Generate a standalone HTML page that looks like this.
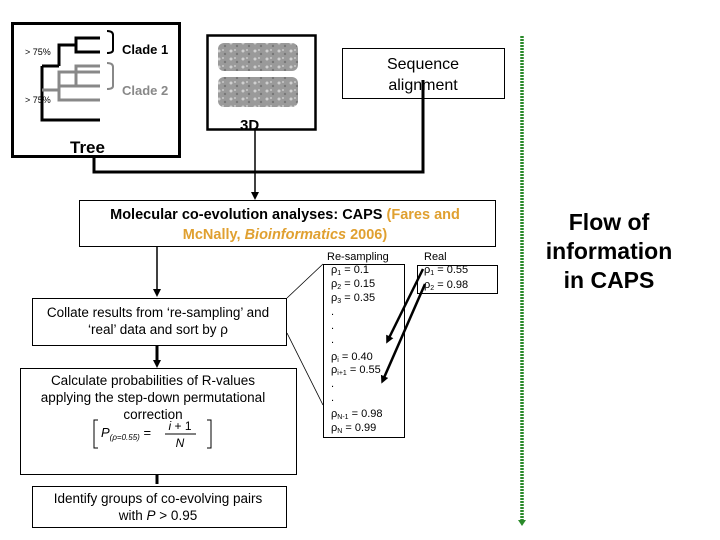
<!DOCTYPE html>
<html><head><meta charset="utf-8"><style>
html,body{margin:0;padding:0;background:#fff;}
svg{display:block;}
text{font-family:"Liberation Sans",sans-serif;}
</style></head><body>
<svg width="720" height="540" viewBox="0 0 720 540" xmlns="http://www.w3.org/2000/svg">
<defs>
<marker id="ah" markerWidth="8" markerHeight="8" refX="4" refY="4" orient="auto" markerUnits="userSpaceOnUse">
<path d="M0,0 L8,4 L0,8 Z" fill="#000"/></marker>
<pattern id="noise" width="12" height="8" patternUnits="userSpaceOnUse">
<rect width="12" height="8" fill="#9a9a9a"/><circle cx="3" cy="3" r="1.5" fill="#d0d0d0"/><circle cx="9" cy="6" r="1.2" fill="#777"/><circle cx="7" cy="2" r="1" fill="#c8c8c8"/></pattern>
</defs>

<!-- Tree box -->
<rect x="12.5" y="23.5" width="167" height="133" fill="#fff" stroke="#000" stroke-width="3"/>
<g fill="none" stroke="#000" stroke-width="3">
<path d="M100,38 H76 V52 H100 M76,45 H59 V66 M42,66 H59 M42,66 V120 H100"/>
</g>
<g fill="none" stroke="#888" stroke-width="3">
<path d="M42,90 H59 V100 H100 M59,90 V72 H100 M59,86 H76 V66 H100 M76,86 H100"/>
</g>
<path d="M107,31 Q113,31 113,35 V50 Q113,53 107,53" fill="none" stroke="#000" stroke-width="2"/>
<path d="M107,63 Q113,63 113,67 V86 Q113,89 107,89" fill="none" stroke="#888" stroke-width="2"/>
<text x="122" y="54" font-size="13" font-weight="bold">Clade 1</text>
<text x="122" y="95" font-size="13" font-weight="bold" fill="#888">Clade 2</text>
<text x="25" y="55" font-size="9" font-family="Liberation Serif,serif">&gt; 75%</text>
<text x="25" y="103" font-size="9" font-family="Liberation Serif,serif">&gt; 75%</text>
<text x="70" y="153" font-size="17" font-weight="bold">Tree</text>

<!-- 3D box -->
<rect x="207.5" y="35.5" width="108" height="94" fill="#fff" stroke="#000" stroke-width="2.5"/>
<rect x="218" y="43" width="80" height="28" fill="url(#noise)" rx="6"/>
<rect x="218" y="77" width="80" height="30" fill="url(#noise)" rx="6"/>
<text x="240" y="130" font-size="15" font-weight="bold">3D</text>

<!-- Sequence alignment -->
<rect x="342.5" y="48.5" width="162" height="50" fill="#fff" stroke="#000" stroke-width="1"/>
<text x="423" y="69" font-size="16" text-anchor="middle">Sequence</text>
<text x="423" y="90" font-size="16" text-anchor="middle">alignment</text>

<!-- connectors -->
<path d="M94,157 V172 H423 V80" fill="none" stroke="#000" stroke-width="3"/>
<line x1="255" y1="130" x2="255" y2="196" stroke="#000" stroke-width="1.5" marker-end="url(#ah)"/>

<!-- CAPS box -->
<rect x="79.5" y="200.5" width="416" height="46" fill="#fff" stroke="#000" stroke-width="1"/>
<text x="285" y="219" font-size="14.5" font-weight="bold" text-anchor="middle">Molecular co-evolution analyses: CAPS <tspan fill="#e0a030">(Fares and</tspan></text>
<text x="285" y="239" font-size="14.5" font-weight="bold" text-anchor="middle" fill="#e0a030">McNally, <tspan font-style="italic">Bioinformatics</tspan> 2006)</text>

<line x1="157" y1="247" x2="157" y2="293" stroke="#000" stroke-width="1.5" marker-end="url(#ah)"/>

<!-- Collate -->
<rect x="32.5" y="298.5" width="254" height="47" fill="#fff" stroke="#000" stroke-width="1"/>
<text x="158" y="317" font-size="13.5" text-anchor="middle">Collate results from ‘re-sampling’ and</text>
<text x="158" y="334" font-size="13.5" text-anchor="middle">‘real’ data and sort by ρ</text>
<line x1="157" y1="346" x2="157" y2="364" stroke="#000" stroke-width="3" marker-end="url(#ah)"/>

<!-- Calc -->
<rect x="20.5" y="368.5" width="276" height="106" fill="#fff" stroke="#000" stroke-width="1"/>
<text x="153" y="385" font-size="13.5" text-anchor="middle">Calculate probabilities of R-values</text>
<text x="153" y="402" font-size="13.5" text-anchor="middle">applying the step-down permutational</text>
<text x="153" y="419" font-size="13.5" text-anchor="middle">correction</text>
<path d="M98,420 H94 V448 H98 M207,420 H211 V448 H207" fill="none" stroke="#000" stroke-width="1"/>
<text x="101" y="437" font-size="13" font-family="Liberation Serif,serif" font-style="italic">P<tspan font-size="8" dy="3">(ρ=0.55)</tspan><tspan dy="-3" font-style="normal"> =</tspan></text>
<text x="180" y="430" font-size="12" font-family="Liberation Serif,serif" font-style="italic" text-anchor="middle">i <tspan font-style="normal">+ 1</tspan></text>
<line x1="165" y1="434" x2="196" y2="434" stroke="#000" stroke-width="1"/>
<text x="180" y="447" font-size="12" font-family="Liberation Serif,serif" font-style="italic" text-anchor="middle">N</text>
<line x1="157" y1="475" x2="157" y2="484" stroke="#000" stroke-width="3"/>

<!-- Identify -->
<rect x="32.5" y="486.5" width="254" height="41" fill="#fff" stroke="#000" stroke-width="1"/>
<text x="158" y="503" font-size="13.5" text-anchor="middle">Identify groups of co-evolving pairs</text>
<text x="158" y="520" font-size="13.5" text-anchor="middle">with <tspan font-style="italic">P</tspan> &gt; 0.95</text>

<!-- diagonal lines -->
<line x1="287" y1="298" x2="323" y2="264" stroke="#000" stroke-width="0.8"/>
<line x1="287" y1="333" x2="323" y2="405" stroke="#000" stroke-width="0.8"/>

<!-- Resampling -->
<text x="327" y="260" font-size="11">Re-sampling</text>
<text x="424" y="260" font-size="11">Real</text>
<rect x="323.5" y="264.5" width="81" height="173" fill="#fff" stroke="#000" stroke-width="1"/>
<g font-size="11">
<text x="331" y="273">ρ<tspan font-size="7" dy="2">1</tspan><tspan dy="-2"> = 0.1</tspan></text>
<text x="331" y="287">ρ<tspan font-size="7" dy="2">2</tspan><tspan dy="-2"> = 0.15</tspan></text>
<text x="331" y="301">ρ<tspan font-size="7" dy="2">3</tspan><tspan dy="-2"> = 0.35</tspan></text>
<text x="331" y="315">.</text>
<text x="331" y="329">.</text>
<text x="331" y="343">.</text>
<text x="331" y="360">ρ<tspan font-size="7" dy="2">i</tspan><tspan dy="-2"> = 0.40</tspan></text>
<text x="331" y="373">ρ<tspan font-size="7" dy="2">i+1</tspan><tspan dy="-2"> = 0.55</tspan></text>
<text x="331" y="387">.</text>
<text x="331" y="401">.</text>
<text x="331" y="417">ρ<tspan font-size="7" dy="2">N-1</tspan><tspan dy="-2"> = 0.98</tspan></text>
<text x="331" y="431">ρ<tspan font-size="7" dy="2">N</tspan><tspan dy="-2"> = 0.99</tspan></text>
</g>
<rect x="417.5" y="265.5" width="80" height="28" fill="#fff" stroke="#000" stroke-width="1"/>
<g font-size="11">
<text x="424" y="273">ρ<tspan font-size="7" dy="2">1</tspan><tspan dy="-2"> = 0.55</tspan></text>
<text x="424" y="288">ρ<tspan font-size="7" dy="2">2</tspan><tspan dy="-2"> = 0.98</tspan></text>
</g>
<line x1="423" y1="269" x2="388" y2="340" stroke="#000" stroke-width="2.5" marker-end="url(#ah)"/>
<line x1="425" y1="284" x2="383" y2="380" stroke="#000" stroke-width="2.5" marker-end="url(#ah)"/>

<!-- green dotted line -->
<line x1="522" y1="36" x2="522" y2="520" stroke="#2a8a2a" stroke-width="3.5" stroke-dasharray="2,1"/>
<path d="M518,520 L526,520 L522,526 Z" fill="#2a8a2a"/>

<text x="609" y="230" font-size="23" font-weight="bold" text-anchor="middle">Flow of</text>
<text x="609" y="259" font-size="23" font-weight="bold" text-anchor="middle">information</text>
<text x="609" y="288" font-size="23" font-weight="bold" text-anchor="middle">in  CAPS</text>
</svg>
</body></html>
